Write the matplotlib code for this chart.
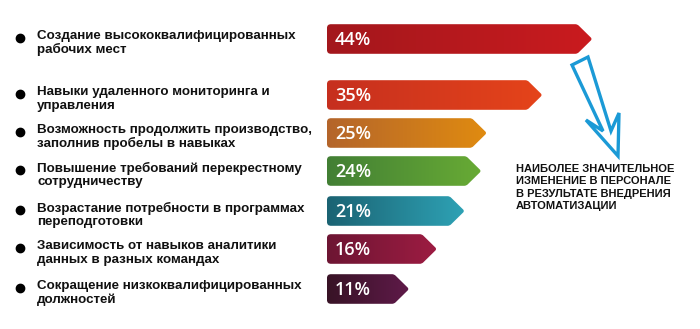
import numpy as np
import matplotlib.pyplot as plt
from matplotlib.path import Path
from matplotlib.patches import PathPatch, Polygon
from matplotlib.colors import LinearSegmentedColormap

labels = [
    "Создание высококвалифицированных\nрабочих мест",
    "Навыки удаленного мониторинга и\nуправления",
    "Возможность продолжить производство,\nзаполнив пробелы в навыках",
    "Повышение требований перекрестному\nсотрудничеству",
    "Возрастание потребности в программах\nпереподготовки",
    "Зависимость от навыков аналитики\nданных в разных командах",
    "Сокращение низкоквалифицированных\nдолжностей",
]
values = [44, 35, 25, 24, 21, 16, 11]
rows = [39, 95, 133, 171, 211, 249, 289]   # row centres (px from top)
left_colors = ["#a3171c", "#c62f1f", "#b4652b", "#427f34", "#1b6373", "#6d1533", "#381326"]
right_colors = ["#ca1b1f", "#e5441a", "#e08b10", "#68ab35", "#2ea2b5", "#9d1c42", "#5f1a49"]
note = "НАИБОЛЕЕ ЗНАЧИТЕЛЬНОЕ\nИЗМЕНЕНИЕ В ПЕРСОНАЛЕ\nВ РЕЗУЛЬТАТЕ ВНЕДРЕНИЯ\nАВТОМАТИЗАЦИИ"

W, H = 700, 329
fig = plt.figure(figsize=(7, 3.29), dpi=100)
ax = fig.add_axes([0, 0, 1, 1])
ax.set_xlim(-62.7, 63.4)
ax.set_ylim(H, 0)
ax.axis("off")

k = W / (63.4 - -62.7)   # px per percent
start = -3.8
half = 14.8   # bar half height px
tip = 15.0    # chevron length px
r = 4.0       # corner radius px


def bar_path(v, yc):
    # build outline in px offsets, convert x to data units
    def X(px):
        return px / k
    pts = []
    codes = []
    x0, x1 = start, v
    top, bot = yc - half, yc + half
    pts += [(x0, top + r), (x0, top), (x0 + X(r), top)]
    codes += [Path.MOVETO, Path.CURVE3, Path.CURVE3]
    pts += [(x1 - X(tip + 2), top), (x1 - X(tip), top), (x1 - X(tip - 1.5), top + 1.5)]
    codes += [Path.LINETO, Path.CURVE3, Path.CURVE3]
    pts += [(x1 - X(1.5), yc - 1.5), (x1, yc), (x1 - X(1.5), yc + 1.5)]
    codes += [Path.LINETO, Path.CURVE3, Path.CURVE3]
    pts += [(x1 - X(tip - 1.5), bot - 1.5), (x1 - X(tip), bot), (x1 - X(tip + 2), bot)]
    codes += [Path.LINETO, Path.CURVE3, Path.CURVE3]
    pts += [(x0 + X(r), bot), (x0, bot), (x0, bot - r)]
    codes += [Path.LINETO, Path.CURVE3, Path.CURVE3]
    pts += [(x0, top + r)]
    codes += [Path.CLOSEPOLY]
    return Path(pts, codes)


grad = np.linspace(0, 1, 256).reshape(1, -1)
for lab, v, yc, c0, c1 in zip(labels, values, rows, left_colors, right_colors):
    p = PathPatch(bar_path(v, yc), facecolor="none", edgecolor="none")
    ax.add_patch(p)
    cmap = LinearSegmentedColormap.from_list("g", [c0, c1])
    im = ax.imshow(grad, cmap=cmap, aspect="auto",
                   extent=[start, v, yc + half, yc - half], zorder=2)
    im.set_clip_path(p)
    ax.text(start + 8 / k, yc + 1, f"{v}%", color="white", fontsize=13,
            family="Open Sans", fontweight="semibold",
            va="center", ha="left", zorder=3)
    # label on the left
    ax.text(37 / W, yc + 4, lab, transform=ax.get_yaxis_transform(),
            fontsize=9.6, fontweight="bold", family="Liberation Sans",
            va="center", ha="left", linespacing=1.15, color="#111111")
    ax.plot([20 / W], [yc - 1], "o", color="black", markersize=6,
            transform=ax.get_yaxis_transform())

ax.set_ylim(H, 0)

# hand-drawn style blue arrow (pixel coords)
arrow_px = [(572, 65), (588, 57), (611, 131), (619, 113), (618, 156),
            (586, 120), (603, 131)]
arrow = Polygon([(x / W, 1 - y / H) for x, y in arrow_px], closed=True,
                fill=False, edgecolor="#1b9ad6", linewidth=2.4,
                joinstyle="miter", transform=ax.transAxes)
ax.add_patch(arrow)

ax.text(516 / W, 1 - 164 / H, note, transform=ax.transAxes, fontsize=8.0,
        fontweight="bold", family="Liberation Sans", va="top", ha="left",
        linespacing=1.3, color="#111111")

fig.savefig("out.png", dpi=100)
